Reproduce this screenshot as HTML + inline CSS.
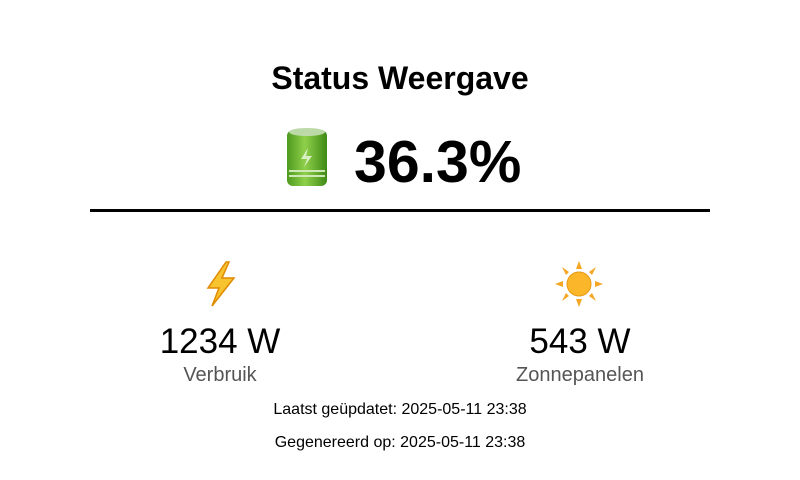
<!DOCTYPE html>
<html><head><meta charset="utf-8"><style>
body{margin:0;width:800px;height:480px;background:#fff;font-family:"Liberation Sans",sans-serif;position:relative;overflow:hidden}
.a{position:absolute;white-space:nowrap}
.c{transform:translateX(-50%)}
</style></head><body>
<div class="a c" style="left:400px;top:60px;font-size:32px;font-weight:bold">Status Weergave</div>
<svg class="a" style="left:286px;top:126px" width="42" height="61" viewBox="0 0 42 61">
<defs><linearGradient id="g" x1="0" x2="1"><stop offset="0" stop-color="#4e9a1e"/><stop offset="0.45" stop-color="#8fd04a"/><stop offset="1" stop-color="#3f8a16"/></linearGradient></defs>
<rect x="1" y="4" width="40" height="56" rx="6" fill="url(#g)"/>
<ellipse cx="21" cy="6" rx="18" ry="4" fill="#bcd9a8"/>
<path d="M22 22 L15 33 L21 33 L18 41 L26 30 L20 30 Z" fill="#d8eec4"/>
<rect x="3" y="44" width="36" height="2" fill="#cfe8b8"/><rect x="3" y="49" width="36" height="2" fill="#cfe8b8"/>
</svg>
<div class="a" style="left:354px;top:128px;font-size:59px;font-weight:bold">36.3%</div>
<div class="a" style="left:90px;top:209px;width:620px;height:3px;background:#000"></div>
<svg class="a" style="left:202px;top:260px" width="36" height="48" viewBox="0 0 36 48">
<path d="M24 2 L6 28 L17 28 L10 46 L32 18 L20 18 L27 2 Z" fill="#f7c32e" stroke="#e08a00" stroke-width="1.5"/>
</svg>
<div class="a c" style="left:220px;top:322px;font-size:35px">1234 W</div>
<div class="a c" style="left:220px;top:364px;font-size:20px;color:#555">Verbruik</div>
<svg class="a" style="left:555px;top:261px" width="48" height="46" viewBox="0 0 48 46">
<g fill="#f5a623">
<polygon points="24,0 27,8 21,8"/><polygon points="24,46 27,38 21,38"/>
<polygon points="0,23 8,20 8,26"/><polygon points="48,23 40,20 40,26"/>
<polygon points="7,6 14,11 11,14"/><polygon points="41,6 34,11 37,14"/>
<polygon points="7,40 14,35 11,32"/><polygon points="41,40 34,35 37,32"/>
</g>
<circle cx="24" cy="23" r="12" fill="#fbb62a" stroke="#e79a10"/>
</svg>
<div class="a c" style="left:580px;top:322px;font-size:35px">543 W</div>
<div class="a c" style="left:580px;top:364px;font-size:20px;color:#555">Zonnepanelen</div>
<div class="a c" style="left:400px;top:401px;font-size:16px">Laatst geüpdatet: 2025-05-11 23:38</div>
<div class="a c" style="left:400px;top:434px;font-size:16px">Gegenereerd op: 2025-05-11 23:38</div>
</body></html>
